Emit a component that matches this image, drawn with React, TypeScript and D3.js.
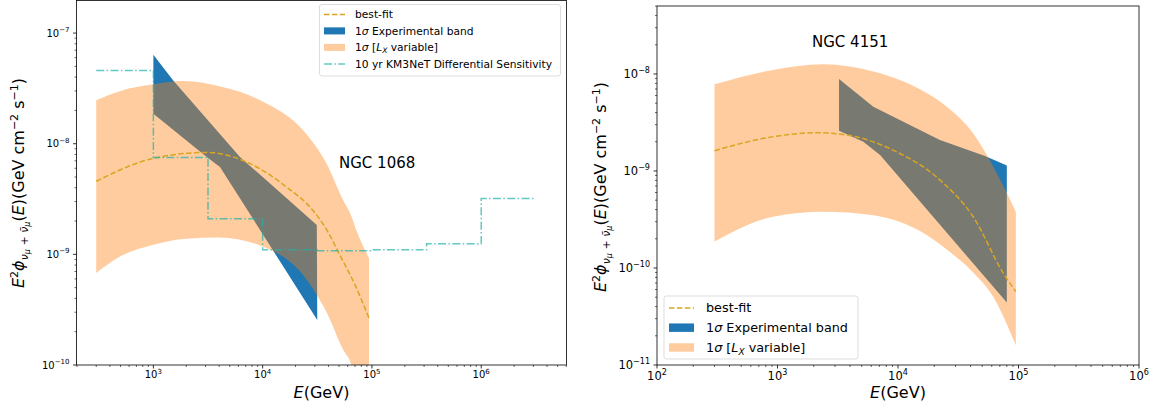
import React from 'react';
import * as d3 from 'd3';

// ---------- NGC 1068 (left) ----------
const lxEnergyL = [300, 500, 1000, 1900, 4000, 9500, 25000, 38500, 54000, 65000, 72000, 94000];
const lxUpperL = [2.47e-8, 3.0e-8, 3.44e-8, 3.68e-8, 3.3e-8, 2.47e-8, 1.23e-8, 6.6e-9, 3.15e-9, 2.2e-9, 1.65e-9, 9.25e-10];
const lxLowerL = [6.8e-10, 9.6e-10, 1.22e-9, 1.38e-9, 1.42e-9, 1.2e-9, 6.0e-10, 3.0e-10, 1.4e-10, 1.0e-10, 7e-11, 3e-11];

const fitEnergyL = [300, 1000, 3100, 7200, 16700, 28800, 38800, 51000, 70000, 94000];
const fitValueL = [4.58e-9, 7.38e-9, 8.35e-9, 6.8e-9, 4.03e-9, 2.5e-9, 1.65e-9, 9.8e-10, 5.3e-10, 2.65e-10];

const expUpperEL = [1000, 1520, 6200, 31300];
const expUpperVL = [6.37e-8, 3.73e-8, 7.6e-9, 1.84e-9];
const expLowerEL = [1000, 3080, 4070, 31600];
const expLowerVL = [1.87e-8, 7.6e-9, 6.17e-9, 2.55e-10];

const sensEdges = [300, 1000, 3162, 10000, 31623, 100000, 316228, 1000000, 3162278];
const sensValues = [4.6e-8, 7.5e-9, 2.1e-9, 1.1e-9, 1.08e-9, 1.1e-9, 1.25e-9, 3.2e-9];

// ---------- NGC 4151 (right) ----------
const lxEnergyR = [300, 920, 2400, 6240, 15200, 25400, 42000, 62000, 95000];
const lxUpperR = [7.83e-9, 1.1e-8, 1.26e-8, 1.06e-8, 6.95e-9, 4.6e-9, 2.45e-9, 1.1e-9, 3.8e-10];
const lxLowerR = [1.87e-10, 3.38e-10, 3.8e-10, 3.5e-10, 2.4e-10, 1.55e-10, 9e-11, 5e-11, 1.6e-11];

const fitEnergyR = [300, 923, 2115, 3750, 9100, 22300, 42000, 75000, 95000];
const fitValueR = [1.62e-9, 2.26e-9, 2.48e-9, 2.35e-9, 1.64e-9, 8.07e-10, 3.38e-10, 8.8e-11, 5.7e-11];

const expUpperER = [3240, 6240, 22300, 52700, 80000];
const expUpperVR = [8.87e-9, 4.6e-9, 2.09e-9, 1.43e-9, 1.14e-9];
const expLowerER = [3240, 5150, 7100, 80000];
const expLowerVR = [2.6e-9, 2.0e-9, 1.46e-9, 4.4e-11];

const xTicksL = [3, 4, 5, 6];
const yTicksL = [-10, -9, -8, -7];
const xTicksR = [2, 3, 4, 5, 6];
const yTicksR = [-11, -10, -9, -8];

const legendL = ['best-fit', '1σ Experimental band', '1σ [L_X variable]', '10 yr KM3NeT Differential Sensitivity'];
const legendR = ['best-fit', '1σ Experimental band', '1σ [L_X variable]'];

const BLUE = '#1f77b4';
const ORANGE = '#ff7f0e';
const GOLD = '#daa520';
const TEAL = '#20b2aa';
const FONT = 'DejaVu Sans, sans-serif';

type PanelProps = {
  id: string;
  xr: [number, number];
  yr: [number, number];
  xd: [number, number];
  yd: [number, number];
  xTicks: number[];
  yTicks: number[];
  tickFont: number;
  tickBase: number;
  lxE: number[]; lxU: number[]; lxL: number[];
  fitE: number[]; fitV: number[];
  expUE: number[]; expUV: number[]; expLE: number[]; expLV: number[];
  sens?: boolean;
  name: string; nameX: number; nameY: number;
  legend: { x: number; y: number; w: number; h: number; rowH: number; font: number; hx: number; hw: number; tx: number; labels: string[] };
  ylabelX: number; ylabelY: number;
};

function LabelText({ label, font }: { label: string; font: number }) {
  if (label.includes('L_X')) {
    const [a, b] = label.split('L_X');
    return (
      <>
        <tspan>1</tspan>
        <tspan fontStyle="italic">σ</tspan>
        <tspan>{a.slice(2)}</tspan>
        <tspan fontStyle="italic">L</tspan>
        <tspan fontStyle="italic" fontSize={font * 0.7} dy={font * 0.2}>X</tspan>
        <tspan dy={-font * 0.2}>{b}</tspan>
      </>
    );
  }
  if (label.startsWith('1σ')) {
    return (
      <>
        <tspan>1</tspan>
        <tspan fontStyle="italic">σ</tspan>
        <tspan>{label.slice(2)}</tspan>
      </>
    );
  }
  return <tspan>{label}</tspan>;
}

function Panel(p: PanelProps) {
  const x = d3.scaleLog().domain(p.xd).range(p.xr);
  const y = d3.scaleLog().domain(p.yd).range(p.yr);
  const [x0, x1] = p.xr;
  const [yb, yt] = p.yr;

  const bandArea = d3.area<number>()
    .x((_, i) => x(p.lxE[i]))
    .y0((_, i) => y(p.lxL[i]))
    .y1((_, i) => y(p.lxU[i]))
    .curve(d3.curveMonotoneX);
  const bandPath = bandArea(p.lxE.map((_, i) => i)) || '';

  const fitLine = d3.line<number>()
    .x((_, i) => x(p.fitE[i]))
    .y((_, i) => y(p.fitV[i]))
    .curve(d3.curveMonotoneX);
  const fitPath = fitLine(p.fitE.map((_, i) => i)) || '';

  const expPts: [number, number][] = [
    ...p.expUE.map((e, i) => [x(e), y(p.expUV[i])] as [number, number]),
    ...p.expLE.map((e, i) => [x(e), y(p.expLV[i])] as [number, number]).reverse(),
  ];
  const expPath = (d3.line()(expPts) || '') + 'Z';

  let sensPath = '';
  if (p.sens) {
    const pts: [number, number][] = sensValues.map((v, i) => [x(sensEdges[i]), y(v)]);
    pts.push([x(sensEdges[sensEdges.length - 1]), y(sensValues[sensValues.length - 1])]);
    sensPath = d3.line().curve(d3.curveStepAfter)(pts) || '';
  }

  const xMinor: number[] = [];
  for (let d = Math.floor(Math.log10(p.xd[0])); d <= Math.ceil(Math.log10(p.xd[1])); d++) {
    for (let k = 2; k <= 9; k++) {
      const v = k * Math.pow(10, d);
      if (v >= p.xd[0] && v <= p.xd[1]) xMinor.push(v);
    }
  }
  const yMinor: number[] = [];
  for (let d = Math.floor(Math.log10(p.yd[0])); d <= Math.ceil(Math.log10(p.yd[1])); d++) {
    for (let k = 2; k <= 9; k++) {
      const v = k * Math.pow(10, d);
      if (v >= p.yd[0] && v <= p.yd[1]) yMinor.push(v);
    }
  }

  const tf = p.tickFont;
  const sf = tf * 0.7;
  const lg = p.legend;

  return (
    <g>
      <defs>
        <clipPath id={p.id}>
          <rect x={x0} y={yt} width={x1 - x0} height={yb - yt} />
        </clipPath>
      </defs>
      <g clipPath={`url(#${p.id})`}>
        <path d={expPath} fill={BLUE} />
        <path d={bandPath} fill={ORANGE} fillOpacity={0.4} />
        <path d={fitPath} fill="none" stroke={GOLD} strokeWidth={1.5} strokeDasharray="5.5,2.4" />
        {p.sens && <path d={sensPath} fill="none" stroke={TEAL} strokeOpacity={0.7} strokeWidth={1.5} strokeDasharray="8,2.4,1.5,2.4" />}
      </g>
      <text x={p.nameX} y={p.nameY} fontFamily={FONT} fontSize={15} fill="#000">{p.name}</text>

      <rect x={lg.x} y={lg.y} width={lg.w} height={lg.h} rx={2.5} fill="#fff" fillOpacity={0.8} stroke="#d4d4d4" strokeWidth={0.8} />
      {lg.labels.map((lab, i) => {
        const cy = lg.y + lg.rowH * 0.6 + i * lg.rowH;
        let handle: React.ReactNode = null;
        if (i === 0) handle = <line x1={lg.hx} x2={lg.hx + lg.hw} y1={cy} y2={cy} stroke={GOLD} strokeWidth={1.5} strokeDasharray="5.5,2.4" />;
        else if (i === 1) handle = <rect x={lg.hx} y={cy - lg.font * 0.33} width={lg.hw} height={lg.font * 0.66} fill={BLUE} />;
        else if (i === 2) handle = <rect x={lg.hx} y={cy - lg.font * 0.33} width={lg.hw} height={lg.font * 0.66} fill={ORANGE} fillOpacity={0.4} />;
        else handle = <line x1={lg.hx} x2={lg.hx + lg.hw} y1={cy} y2={cy} stroke={TEAL} strokeOpacity={0.7} strokeWidth={1.5} strokeDasharray="8,2.4,1.5,2.4" />;
        return (
          <g key={i}>
            {handle}
            <text x={lg.tx} y={cy + lg.font * 0.36} fontFamily={FONT} fontSize={lg.font} fill="#000">
              <LabelText label={lab} font={lg.font} />
            </text>
          </g>
        );
      })}

      <rect x={x0} y={yt} width={x1 - x0} height={yb - yt} fill="none" stroke="#000" strokeWidth={0.8} />

      {xMinor.map((v, i) => (
        <line key={'xm' + i} x1={x(v)} x2={x(v)} y1={yb} y2={yb + 2} stroke="#000" strokeWidth={0.6} />
      ))}
      {p.xTicks.map((e) => (
        <g key={'xt' + e}>
          <line x1={x(Math.pow(10, e))} x2={x(Math.pow(10, e))} y1={yb} y2={yb + 3.5} stroke="#000" strokeWidth={0.8} />
          <text x={x(Math.pow(10, e))} y={p.tickBase} fontFamily={FONT} fontSize={tf} textAnchor="middle" fill="#000">
            10<tspan fontSize={sf} dy={-tf * 0.45}>{e}</tspan>
          </text>
        </g>
      ))}
      {yMinor.map((v, i) => (
        <line key={'ym' + i} x1={x0} x2={x0 - 2} y1={y(v)} y2={y(v)} stroke="#000" strokeWidth={0.6} />
      ))}
      {p.yTicks.map((e) => (
        <g key={'yt' + e}>
          <line x1={x0} x2={x0 - 3.5} y1={y(Math.pow(10, e))} y2={y(Math.pow(10, e))} stroke="#000" strokeWidth={0.8} />
          <text x={x0 - 7} y={y(Math.pow(10, e)) + tf * 0.36} fontFamily={FONT} fontSize={tf} textAnchor="end" fill="#000">
            10<tspan fontSize={sf} dy={-tf * 0.45}>{'−' + Math.abs(e)}</tspan>
          </text>
        </g>
      ))}

      <text x={(x0 + x1) / 2} y={398} fontFamily={FONT} fontSize={16} textAnchor="middle" fill="#000">
        <tspan fontStyle="italic">E</tspan>(GeV)
      </text>
      <text transform={`translate(${p.ylabelX},${p.ylabelY}) rotate(-90)`} fontFamily={FONT} fontSize={16} textAnchor="middle" fill="#000">
        <tspan fontStyle="italic">E</tspan>
        <tspan fontSize={11} dy={-6}>2</tspan>
        <tspan fontStyle="italic" dy={6}>ϕ</tspan>
        <tspan fontStyle="italic" fontSize={11} dy={4}>ν</tspan>
        <tspan fontStyle="italic" fontSize={8} dy={2}>μ</tspan>
        <tspan fontSize={11} dy={-2}> + </tspan>
        <tspan fontStyle="italic" fontSize={11}>ν̄</tspan>
        <tspan fontStyle="italic" fontSize={8} dy={2}>μ</tspan>
        <tspan dy={-6}>(</tspan>
        <tspan fontStyle="italic">E</tspan>
        <tspan>)(GeV cm</tspan>
        <tspan fontSize={11} dy={-6}>−2</tspan>
        <tspan dy={6}> s</tspan>
        <tspan fontSize={11} dy={-6}>−1</tspan>
        <tspan dy={6}>)</tspan>
      </text>
    </g>
  );
}

export default function App() {
  return (
    <svg width={1162} height={414} style={{ position: 'absolute', left: 0, top: 0, background: '#fff' }}>
      <rect x={0} y={0} width={1162} height={414} fill="#fff" />
      <Panel
        id="clipL"
        xr={[76.5, 566.5]} yr={[365, 0.5]}
        xd={[198, 6.03e6]} yd={[1e-10, 1.97e-7]}
        xTicks={xTicksL} yTicks={yTicksL} tickFont={10} tickBase={378}
        lxE={lxEnergyL} lxU={lxUpperL} lxL={lxLowerL}
        fitE={fitEnergyL} fitV={fitValueL}
        expUE={expUpperEL} expUV={expUpperVL} expLE={expLowerEL} expLV={expLowerVL}
        sens
        name="NGC 1068" nameX={339} nameY={168}
        legend={{ x: 319.5, y: 4.5, w: 241, h: 71.5, rowH: 16.5, font: 10.7, hx: 324, hw: 21, tx: 355, labels: legendL }}
        ylabelX={24} ylabelY={183}
      />
      <Panel
        id="clipR"
        xr={[657, 1139]} yr={[365, 6]}
        xd={[1e2, 1e6]} yd={[1e-11, 5.02e-8]}
        xTicks={xTicksR} yTicks={yTicksR} tickFont={11.5} tickBase={380}
        lxE={lxEnergyR} lxU={lxUpperR} lxL={lxLowerR}
        fitE={fitEnergyR} fitV={fitValueR}
        expUE={expUpperER} expUV={expUpperVR} expLE={expLowerER} expLV={expLowerVR}
        name="NGC 4151" nameX={812} nameY={47}
        legend={{ x: 664, y: 296, w: 194, h: 63, rowH: 19.8, font: 12.8, hx: 669, hw: 25, tx: 706, labels: legendR }}
        ylabelX={606} ylabelY={187}
      />
    </svg>
  );
}
